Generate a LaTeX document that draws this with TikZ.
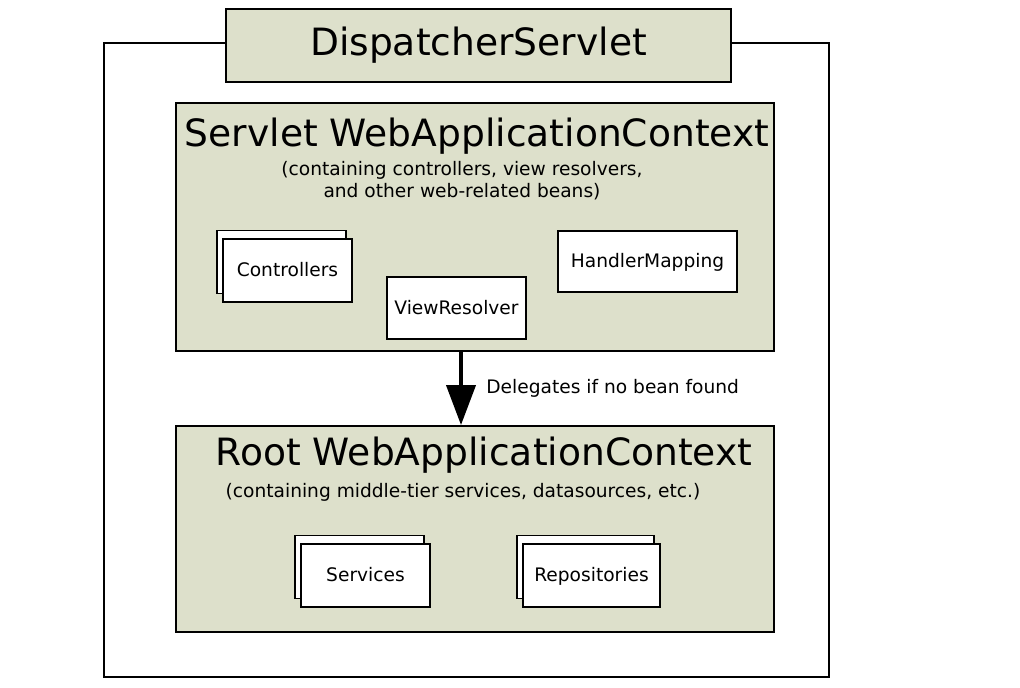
\documentclass[tikz,border=0pt]{standalone}
\usepackage{fontspec}
\setmainfont{DejaVu Sans}
\usetikzlibrary{arrows.meta,shadows,positioning}
\definecolor{ctxgreen}{RGB}{221,224,203}
\tikzset{
  ctxbox/.style={draw, line width=1.1pt, fill=ctxgreen, inner sep=0pt},
  beanbox/.style={draw, line width=0.8pt, fill=white, inner sep=0pt,
    text height=1.5ex, text depth=0.25ex, font=\fontsize{10.6}{12.5}\selectfont},
  beanstack/.style={beanbox, copy shadow={shadow xshift=-0.12cm, shadow yshift=0.17cm,
    draw, line width=0.8pt, fill=white}},
  bigtitle/.style={font=\fontsize{21.4}{25}\selectfont},
  smalltext/.style={align=center, font=\fontsize{10.6}{12.6}\selectfont}
}
\begin{document}
\begin{tikzpicture}[x=0.02cm, y=-0.02cm]
    \useasboundingbox (0,0) rectangle (1020,688);

    % outer frame of the servlet
    \draw[line width=1.1pt] (104,43) rectangle (829,677);
    \node[ctxbox, bigtitle, minimum width=10.1cm, minimum height=1.46cm] (dispatcher) at (478.5,45.5) {DispatcherServlet};

    % servlet context
    \node[ctxbox, minimum width=11.96cm, minimum height=4.96cm] (servlet) at (475,227) {};
    \node[bigtitle] (servlettitle) at (477,136) {Servlet WebApplicationContext};
    \node[smalltext] (servletnote) at (462,181) {(containing controllers, view resolvers,\\ and other web-related beans)};

    \node[beanstack, minimum width=2.58cm, minimum height=1.26cm] (controllers) at (287.5,270.5) {Controllers};
    \node[beanbox, minimum width=2.78cm, minimum height=1.24cm] (viewresolver) at (456.5,308) {ViewResolver};
    \node[beanbox, minimum width=3.58cm, minimum height=1.22cm] (handlermapping) at (647.5,261.5) {HandlerMapping};

    % root context
    \node[ctxbox, minimum width=11.96cm, minimum height=4.12cm] (root) at (475,529) {};
    \node[bigtitle] (roottitle) at (484,455) {Root WebApplicationContext};
    \node[smalltext] (rootnote) at (463,492) {(containing middle-tier services, datasources, etc.)};

    \node[beanstack, minimum width=2.58cm, minimum height=1.26cm] (services) at (365.5,575.5) {Services};
    \node[beanstack, minimum width=2.74cm, minimum height=1.26cm] (repositories) at (591.5,575.5) {Repositories};

    \draw[line width=0.08cm, -{Triangle[length=0.8cm, width=0.58cm]}]
        ([xshift=-0.28cm]servlet.south) -- ([xshift=-0.28cm]root.north)
        node[midway, right=0.35cm, smalltext] (delegates) {Delegates if no bean found};
\end{tikzpicture}
\end{document}
